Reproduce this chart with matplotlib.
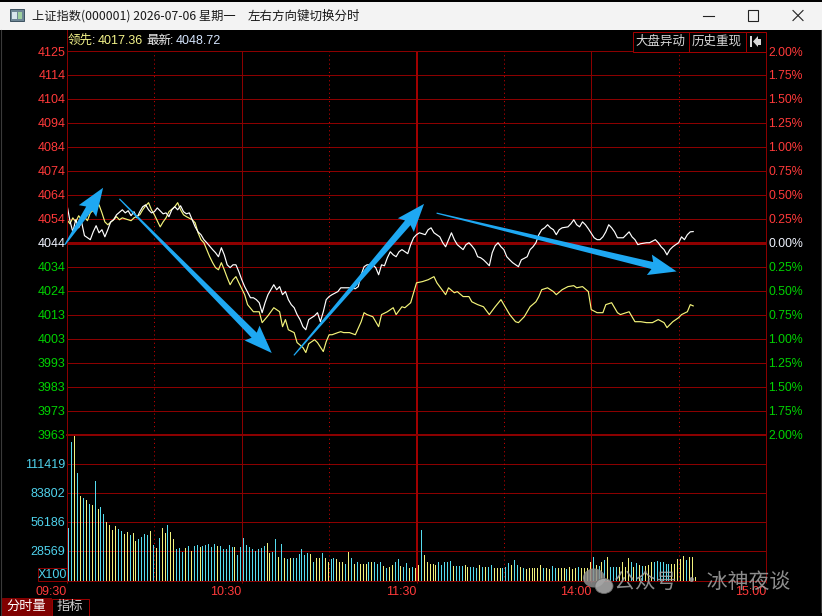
import numpy as np
import matplotlib
matplotlib.use('Agg')
import matplotlib.pyplot as plt
from matplotlib.patches import Rectangle, Polygon, Ellipse
from matplotlib.transforms import IdentityTransform
from matplotlib.lines import Line2D

plt.rcParams['font.family'] = ['Liberation Sans', 'Noto Sans CJK SC', 'DejaVu Sans']
plt.rcParams['lines.scale_dashes'] = False

# ---------------- data ----------------
prev_close = 4044.0
last_price = 4048.72
lead_price = 4017.36
pct_levels = [2.00, 1.75, 1.50, 1.25, 1.00, 0.75, 0.50, 0.25, 0.00,
              -0.25, -0.50, -0.75, -1.00, -1.25, -1.50, -1.75, -2.00]
left_labels = ['4125', '4114', '4104', '4094', '4084', '4074', '4064', '4054', '4044',
               '4034', '4024', '4013', '4003', '3993', '3983', '3973', '3963']
right_labels = ['2.00%', '1.75%', '1.50%', '1.25%', '1.00%', '0.75%', '0.50%', '0.25%', '0.00%',
                '0.25%', '0.50%', '0.75%', '1.00%', '1.25%', '1.50%', '1.75%', '2.00%']
vol_ticks = [28569, 56186, 83802, 111419]
vol_top = 139036
time_ticks = [0, 60, 120, 180, 240]
time_labels = ['09:30', '10:30', '11:30', '14:00', '15:00']
half_hour_ticks = [30, 90, 150, 210]

white_t = [0, 1, 2, 3, 4, 5, 6, 8, 9, 10,
           11, 12, 13, 14, 15, 16, 17, 19, 20, 21,
           22, 23, 24, 25, 26, 27, 28, 29, 30, 31,
           33, 34, 35, 36, 37, 38, 39, 40, 41, 42,
           43, 44, 45, 46, 47, 48, 50, 51, 52, 53,
           54, 55, 56, 57, 58, 59, 60, 61, 63, 64,
           65, 66, 67, 68, 69, 70, 71, 72, 73, 74,
           75, 76, 77, 78, 79, 80, 81, 82, 83, 85,
           86, 87, 88, 89, 90, 91, 93, 94, 96, 97,
           99, 100, 101, 102, 103, 105, 106, 107, 108, 109,
           110, 111, 112, 113, 114, 115, 117, 118, 119, 120,
           121, 123, 124, 125, 126, 128, 129, 130, 131, 132,
           133, 134, 136, 137, 138, 139, 140, 141, 142, 143,
           144, 145, 146, 147, 148, 149, 150, 151, 152, 153,
           155, 156, 158, 159, 160, 161, 162, 163, 164, 165,
           166, 167, 168, 169, 170, 172, 173, 174, 175, 176,
           177, 178, 179, 181, 182, 183, 184, 185, 186, 187,
           188, 189, 190, 191, 193, 194, 195, 196, 197, 199,
           200, 202, 203, 204, 205, 206, 207, 208, 209, 210,
           211, 212, 213, 214, 215]
white_p = [4060.0, 4053.3, 4048.6, 4053.7, 4050.3, 4052.8, 4047.0, 4045.3, 4048.6, 4051.2,
           4048.2, 4049.5, 4046.5, 4049.5, 4052.8, 4053.7, 4055.8, 4057.9, 4056.6, 4057.5,
           4055.4, 4057.1, 4054.5, 4057.1, 4059.2, 4060.0, 4057.9, 4056.6, 4057.1, 4058.7,
           4056.2, 4056.6, 4055.0, 4057.9, 4059.2, 4057.9, 4059.6, 4057.1, 4056.2, 4056.6,
           4053.7, 4050.7, 4048.6, 4047.4, 4045.3, 4044.0, 4041.1, 4039.8, 4038.1, 4041.9,
           4038.9, 4034.7, 4033.5, 4034.7, 4034.7, 4031.8, 4028.4, 4025.5, 4020.8, 4020.8,
           4020.0, 4018.7, 4014.5, 4018.7, 4022.1, 4024.2, 4026.3, 4024.2, 4025.5, 4022.1,
           4023.4, 4020.0, 4017.9, 4016.6, 4013.7, 4011.6, 4008.6, 4007.3, 4011.6, 4013.2,
           4014.5, 4010.7, 4014.9, 4020.0, 4021.3, 4022.1, 4023.4, 4025.0, 4025.0, 4025.0,
           4024.6, 4025.5, 4030.5, 4033.9, 4034.7, 4034.7, 4033.5, 4030.5, 4034.7, 4034.3,
           4037.7, 4040.2, 4038.9, 4038.1, 4040.2, 4041.1, 4039.4, 4043.2, 4046.1, 4047.4,
           4048.2, 4047.4, 4049.5, 4050.3, 4048.2, 4046.5, 4044.0, 4042.3, 4045.3, 4048.2,
           4045.3, 4043.2, 4041.1, 4043.2, 4044.0, 4042.7, 4041.1, 4038.1, 4037.7, 4036.8,
           4035.6, 4034.3, 4039.8, 4042.7, 4044.0, 4042.3, 4041.1, 4038.1, 4036.8, 4035.6,
           4033.9, 4036.8, 4038.1, 4041.1, 4042.3, 4044.0, 4047.4, 4049.5, 4050.3, 4051.6,
           4050.3, 4049.5, 4047.4, 4049.5, 4050.3, 4050.7, 4052.0, 4053.7, 4051.6, 4050.7,
           4052.8, 4051.6, 4049.9, 4046.1, 4045.3, 4045.3, 4046.5, 4048.6, 4051.6, 4050.3,
           4048.6, 4046.1, 4046.1, 4046.1, 4048.6, 4046.5, 4045.3, 4043.2, 4043.6, 4044.0,
           4044.0, 4045.3, 4044.0, 4042.3, 4041.1, 4038.9, 4041.1, 4042.3, 4043.2, 4044.0,
           4046.5, 4045.3, 4047.4, 4048.6, 4048.72]

yellow_t = [0, 1, 2, 3, 4, 5, 6, 7, 8, 10,
            11, 12, 13, 14, 16, 17, 18, 19, 21, 22,
            23, 25, 26, 27, 28, 29, 30, 32, 33, 34,
            35, 37, 38, 39, 40, 41, 43, 44, 45, 46,
            47, 48, 49, 50, 51, 52, 53, 54, 55, 56,
            57, 58, 59, 61, 62, 64, 66, 67, 69, 70,
            71, 73, 74, 75, 76, 78, 79, 81, 82, 83,
            85, 86, 88, 89, 90, 91, 93, 94, 95, 97,
            99, 101, 102, 103, 105, 107, 108, 110, 112, 113,
            115, 116, 118, 119, 120, 122, 124, 126, 127, 130,
            131, 133, 134, 136, 138, 139, 141, 143, 145, 147,
            149, 150, 152, 154, 155, 157, 159, 161, 162, 163,
            165, 167, 168, 170, 172, 174, 175, 177, 179, 180,
            182, 184, 185, 187, 189, 190, 192, 193, 195, 197,
            199, 201, 203, 205, 206, 208, 210, 211, 213, 214,
            215]
yellow_p = [4053.7, 4052.0, 4054.5, 4052.8, 4055.4, 4053.7, 4055.0, 4053.3, 4056.6, 4058.7,
            4060.0, 4056.6, 4052.8, 4051.6, 4053.7, 4055.0, 4053.7, 4054.5, 4053.7, 4053.3,
            4054.5, 4055.8, 4057.9, 4059.6, 4060.9, 4057.9, 4055.8, 4050.7, 4052.8, 4054.5,
            4057.1, 4059.2, 4060.9, 4057.9, 4055.8, 4055.0, 4053.7, 4052.4, 4048.2, 4045.3,
            4044.0, 4041.1, 4038.1, 4035.6, 4033.5, 4032.6, 4035.6, 4032.6, 4029.3, 4026.3,
            4028.4, 4029.7, 4027.1, 4022.1, 4017.9, 4014.9, 4014.9, 4010.3, 4013.2, 4014.9,
            4016.6, 4014.9, 4008.6, 4011.6, 4007.3, 4006.1, 4001.9, 3999.8, 3997.7, 4001.4,
            4003.1, 4001.9, 3998.1, 4002.3, 4005.2, 4005.2, 4006.1, 4006.5, 4006.1, 4006.1,
            4005.2, 4010.7, 4014.5, 4013.7, 4012.8, 4008.6, 4013.7, 4014.9, 4016.6, 4013.7,
            4017.0, 4016.6, 4018.7, 4022.9, 4027.1, 4027.6, 4028.4, 4029.7, 4027.1, 4022.1,
            4025.0, 4022.9, 4023.4, 4021.3, 4021.3, 4019.1, 4017.9, 4017.0, 4013.7, 4017.0,
            4020.0, 4017.9, 4013.7, 4010.7, 4010.3, 4012.8, 4017.0, 4019.1, 4021.3, 4024.2,
            4025.0, 4023.4, 4022.1, 4024.2, 4025.5, 4025.9, 4025.0, 4025.5, 4023.4, 4015.8,
            4014.5, 4014.5, 4017.9, 4018.7, 4014.5, 4013.7, 4014.5, 4014.9, 4010.7, 4010.7,
            4010.3, 4010.3, 4011.6, 4010.3, 4008.2, 4010.7, 4012.4, 4013.7, 4014.9, 4017.9,
            4017.36]

volume = [50200, 131900, 139000, 102300, 80500, 79200, 76700, 72900, 72000, 94700,
          68200, 70700, 63400, 55600, 53000, 48300, 51800, 49200, 47400, 44500,
          46400, 43600, 45500, 37600, 39800, 41400, 44500, 43600, 47000, 34100,
          31300, 40700, 50200, 45500, 53000, 46100, 39800, 30300, 31300, 27800,
          31300, 33100, 28700, 32800, 34100, 31900, 32800, 34100, 35000, 31900,
          35000, 32800, 32800, 30300, 30300, 34100, 31900, 32500, 24900, 32500,
          40700, 34100, 31900, 30300, 28700, 30300, 31300, 33500, 36000, 26500,
          27800, 39800, 23000, 34800, 22300, 20700, 22300, 21400, 21400, 25400,
          30800, 24500, 26400, 25400, 18500, 21400, 21400, 26400, 21400, 17600,
          20700, 22300, 20700, 18500, 18500, 16600, 27900, 22300, 16600, 17600,
          16600, 16000, 16600, 18500, 17600, 17600, 16600, 18500, 14400, 11900,
          12900, 15100, 17600, 21300, 14400, 13500, 17000, 11900, 12900, 12200,
          15100, 48000, 24500, 18200, 16000, 16000, 15100, 18500, 15100, 18200,
          17600, 18800, 14400, 13800, 13800, 14400, 15100, 12900, 13500, 12900,
          12200, 15100, 13500, 12900, 13500, 15100, 11900, 11900, 11900, 11900,
          12900, 17000, 15100, 19800, 15100, 12900, 11900, 11300, 11900, 11900,
          12200, 12200, 15100, 12200, 12200, 11300, 14400, 12200, 12200, 12200,
          12200, 11300, 12900, 11300, 12200, 13500, 11900, 12200, 12200, 17600,
          22900, 15100, 14400, 18200, 19800, 22900, 13500, 13500, 13500, 13500,
          18200, 13500, 21700, 17600, 13500, 17000, 15100, 14400, 14400, 15100,
          17600, 18500, 19200, 18200, 18200, 16000, 16000, 16000, 16600, 20700,
          21300, 23900, 19800, 22900, 22900, 3500]
vol_dir = ("CCYCYCYCYC" "YCCYYYYCCY" "YCYYCCCCYC" "YCYYCYYCCC" "YCYCCYCCCC"
           "CYCCCCCYCC" "CCCCCCCCYY" "CCYCYCYCCC" "CCCYCYYCYY" "CCYYYCYCYC"
           "YYYCYCCCYC" "YYCCYCCYCY" "YCYYYYYCCC" "CCYCCCYYCC" "CYCYCCYYYC"
           "CCYCCYCYYY" "YYYCYYCCYY" "YCYYYCYYYY" "CYCYCYCCCY" "YYYCYCYCYY"
           "YCCCCCCYYY" "YYCYYY")

# annotation arrows: (minute, price) tail -> head
arrow_tail_t = [-0.7, 18.0, 77.9, 126.9]
arrow_tail_p = [4043.2, 4062.5, 3996.5, 4056.5]
arrow_head_t = [12.4, 70.3, 122.6, 209.3]
arrow_head_p = [4067.2, 3997.5, 4060.4, 4031.9]

assert len(white_t) == len(white_p)
assert len(yellow_t) == len(yellow_p)
assert len(volume) == len(vol_dir)

# ---------------- figure ----------------
W, H = 822, 616
fig = plt.figure(figsize=(W / 100, H / 100), dpi=100, facecolor='black')

def fx(x):
    return x / W

def fy(y):
    return 1 - y / H

def frect(x, y, w, h, **kw):
    fig.add_artist(Rectangle((fx(x), fy(y + h)), w / W, h / H, transform=fig.transFigure, **kw))

def fline(xs, ys, **kw):
    fig.add_artist(Line2D([fx(v) for v in xs], [fy(v) for v in ys], transform=fig.transFigure, **kw))

def ftext(x, y, s, **kw):
    fig.text(fx(x), fy(y), s, **kw)

GRID = '#8b0000'
RED = '#ff3a3a'
GREEN = '#00d200'
CYAN = '#4fd2ec'
PX = 0.72

X0, X1 = 67, 766
YT, YM, YB = 51, 434.5, 581
ax = fig.add_axes([fx(X0), fy(YM), (X1 - X0) / W, (YM - YT) / H], facecolor='black')
axv = fig.add_axes([fx(X0), fy(YB), (X1 - X0) / W, (YB - YM) / H], facecolor='black')

levels = [prev_close * (1 + p / 100) for p in pct_levels]
ax.set_ylim(min(levels), max(levels))
ax.set_xlim(0, 240)
axv.set_xlim(0, 240)
axv.set_ylim(0, vol_top)

for a in (ax, axv):
    for s in a.spines.values():
        s.set_color(GRID)
        s.set_linewidth(PX)
ax.spines['bottom'].set_linewidth(2 * PX)

# horizontal grid
for lv, p in zip(levels, pct_levels):
    if p == 0:
        ax.axhline(lv, color='#8f0000', lw=3 * PX, zorder=1)
    else:
        ax.axhline(lv, color=GRID, lw=PX, zorder=1)
for v in vol_ticks:
    axv.axhline(v, color=GRID, lw=PX, zorder=1)

# vertical grid
for a in (ax, axv):
    for t in time_ticks[1:-1]:
        if t == 120:
            a.axvline(t, color='#a00000', lw=2 * PX, zorder=1)
        else:
            a.axvline(t, color=GRID, lw=PX, zorder=1)
    for t in half_hour_ticks:
        a.axvline(t, color='#c00000', lw=PX, ls=(0, (0.8, 2.2)), zorder=1)

# price lines
ax.plot(yellow_t, yellow_p, color='#f4f47a', lw=0.85, zorder=3)
ax.plot(white_t, white_p, color='#ffffff', lw=0.85, zorder=4)

# volume bars
vx = np.arange(1, len(volume) + 1) - 0.5
vcol = ['#55dcf0' if c == 'C' else '#f2f27c' for c in vol_dir]
axv.vlines(vx, 0, volume, colors=vcol, lw=0.62, antialiased=False, zorder=3)

# left / right tick labels
lab_cols = [RED if p > 0 else ('#f0f4ff' if p == 0 else GREEN) for p in pct_levels]
ax.set_xticks([])
ax.set_yticks(levels)
ax.set_yticklabels(left_labels)
ax.tick_params(axis='y', length=0, pad=1.2, labelsize=9)
for lab, c in zip(ax.get_yticklabels(), lab_cols):
    lab.set_color(c)

axr = ax.twinx()
axr.set_ylim(ax.get_ylim())
axr.set_yticks(levels)
axr.set_yticklabels(right_labels)
axr.tick_params(axis='y', length=0, pad=1.5, labelsize=8.8)
for lab, c in zip(axr.get_yticklabels(), lab_cols):
    lab.set_color(c)
for s in axr.spines.values():
    s.set_color(GRID)
    s.set_linewidth(PX)

axv.set_yticks(vol_ticks)
axv.set_yticklabels([str(v) for v in vol_ticks])
axv.tick_params(axis='y', length=0, pad=1.2, labelsize=9, labelcolor=CYAN)
axv.set_xticks(time_ticks)
axv.set_xticklabels(time_labels)
axv.tick_params(axis='x', length=1.5, width=PX, color=GRID, pad=2, labelsize=9, labelcolor=RED)
for lab in axv.get_xticklabels():
    lab.set_horizontalalignment('right')

# ---------------- arrows ----------------
ARROW = '#1ea8f2'
def tapered_arrow(t0, p0, t1, p1, L=25, hw=10.5, sw=3.6, tw=0.6):
    P0 = np.array(ax.transData.transform((t0, p0)))
    P1 = np.array(ax.transData.transform((t1, p1)))
    d = P1 - P0
    u = d / np.hypot(*d)
    n = np.array([-u[1], u[0]])
    Pb = P1 - L * u
    pts = [P0 + tw * n, Pb + sw * n, Pb - 3 * u + hw * n, P1,
           Pb - 3 * u - hw * n, Pb - sw * n, P0 - tw * n]
    fig.add_artist(Polygon(pts, closed=True, transform=IdentityTransform(),
                           fc=ARROW, ec='none', zorder=6))

for a0, b0, a1, b1 in zip(arrow_tail_t, arrow_tail_p, arrow_head_t, arrow_head_p):
    tapered_arrow(a0, b0, a1, b1)

# ---------------- chrome ----------------
frect(0, 2, W, 28, fc='#f3f3f3', ec='none', zorder=2)
frect(10, 9, 14, 12, fc='#6e8796', ec='#3d5260', lw=0.7, zorder=3)
frect(12, 12, 5, 7, fc='#d9e6ee', ec='none', zorder=4)
frect(18, 12, 4, 7, fc='#9fd0a0', ec='none', zorder=4)
ftext(32, 16, '上证指数(000001) 2026-07-06 星期一', fontsize=8.8, color='#1a1a1a',
      va='center', ha='left', family=['Noto Sans CJK SC', 'DejaVu Sans'], zorder=3)
ftext(248, 16, '左右方向键切换分时', fontsize=9, color='#1a1a1a', va='center', ha='left',
      family=['Noto Sans CJK SC', 'DejaVu Sans'], zorder=3)
fline([703, 714], [15.5, 15.5], color='#222222', lw=0.8, zorder=3)
frect(747.5, 10.5, 10, 10, fc='none', ec='#222222', lw=0.8, zorder=3)
fline([793, 803], [10.5, 20.5], color='#222222', lw=0.8, zorder=3)
fline([793, 803], [20.5, 10.5], color='#222222', lw=0.8, zorder=3)

# info bar
ftext(68, 41, '领先', fontsize=9, color='#f4f48a', va='center', ha='left')
ftext(92, 41, ':', fontsize=9, color='#e8e8e8', va='center', ha='left')
ftext(98, 41, f'{lead_price:.2f}', fontsize=9, color='#f4f48a', va='center', ha='left')
ftext(146, 41, '最新', fontsize=9, color='#eeeeee', va='center', ha='left')
ftext(170, 41, ':', fontsize=9, color='#e8e8e8', va='center', ha='left')
ftext(176, 41, f'{last_price:.2f}', fontsize=9, color='#d6e6ff', va='center', ha='left')

frect(632.5, 31.5, 56, 20, fc='black', ec='#a00000', lw=PX, zorder=3)
frect(688.5, 31.5, 57, 20, fc='black', ec='#a00000', lw=PX, zorder=3)
frect(745.5, 31.5, 20, 20, fc='black', ec='#a00000', lw=PX, zorder=3)
ftext(660.5, 41.5, '大盘异动', fontsize=9, color='#d8d8d8', va='center', ha='center', zorder=4)
ftext(717, 41.5, '历史重现', fontsize=9, color='#d8d8d8', va='center', ha='center', zorder=4)
frect(750, 36, 2, 11, fc='#d8d8d8', ec='none', zorder=4)
fig.add_artist(Polygon([(fx(753), fy(41.5)), (fx(758), fy(36)), (fx(758), fy(47))],
                       closed=True, transform=fig.transFigure, fc='#d8d8d8', ec='none', zorder=4))
frect(757, 38.5, 4, 6, fc='#d8d8d8', ec='none', zorder=4)

# left border extending through info bar
fline([X0, X0], [30, YT], color=GRID, lw=PX, zorder=3)

# X100 box
frect(37.5, 567.5, 29, 13.5, fc='black', ec=GRID, lw=PX, zorder=3)
ftext(52, 574.5, 'X100', fontsize=9, color=CYAN, va='center', ha='center', zorder=4)

# bottom tabs
frect(2, 598, 49, 18, fc='#800000', ec='#800000', lw=PX, zorder=3)
ftext(26.5, 607, '分时量', fontsize=9.5, color='#ffffff', va='center', ha='center', zorder=4)
frect(51.5, 598.5, 37, 17, fc='black', ec='#9a0000', lw=PX, zorder=3)
ftext(70, 607, '指标', fontsize=9.5, color='#d0d0d0', va='center', ha='center', zorder=4)

# watermark (semi-transparent, over the chart as in the source)
fig.add_artist(Ellipse((fx(594), fy(578)), 22 / W, 19 / H, transform=fig.transFigure,
                       fc='#8e8e8e', ec='none', alpha=0.85, zorder=7))
fig.add_artist(Ellipse((fx(604), fy(586)), 18 / W, 15 / H, transform=fig.transFigure,
                       fc='#a8a8a8', ec='#6a6a6a', lw=0.6, alpha=0.9, zorder=7))
ftext(614, 582, '公众号 · 冰神夜谈', fontsize=15, color='#a6a6a6', alpha=0.85,
      va='center', ha='left', family=['Noto Sans CJK SC', 'DejaVu Sans'], zorder=7)

# window border
fline([0.5, 0.5], [30, 616], color='#3a3a3a', lw=0.8, zorder=3)
fline([821, 821], [30, 612], color='#3a3a3a', lw=0.8, zorder=3)
fline([0, 818], [615.5, 615.5], color='#3a3a3a', lw=0.8, zorder=3)

fig.savefig('out.png', dpi=100, facecolor='black')
